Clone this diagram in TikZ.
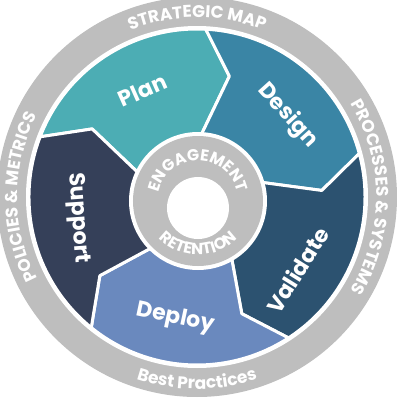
\documentclass[tikz,border=0pt]{standalone}
\usepackage{fontspec}
\newfontfamily\popfont{Poppins}
\usetikzlibrary{decorations.text}
\definecolor{plancol}{RGB}{76,173,180}
\definecolor{designcol}{RGB}{58,133,165}
\definecolor{validcol}{RGB}{44,82,112}
\definecolor{deploycol}{RGB}{106,137,190}
\definecolor{supportcol}{RGB}{53,64,89}
\definecolor{ringcol}{RGB}{190,190,190}
\begin{document}
\begin{tikzpicture}[x=1pt,y=1pt,
  seg/.style={draw=white,line width=3pt,line join=round,fill=#1},
  lbl/.style={text=white,font=\popfont\bfseries\fontsize{22}{22}\selectfont},
  ringtext/.style={decorate,decoration={text along path,text align=center,
    text color=white,text={|\popfont\bfseries\fontsize{17}{17}\selectfont|#1}}},
  hubtext/.style={decorate,decoration={text along path,text align=center,
    text color=white,text={|\popfont\bfseries\fontsize{16}{16}\selectfont|#1}}}]
\def\Ro{168}
\def\Ri{60}
\def\Rt{125}
\def\dt{12}
\useasboundingbox (-197,-203) rectangle (203,197);
% outer ring
\fill[ringcol] (0,0) circle[radius=200];
\fill[white] (0,0) circle[radius=171];
% the five arrows
\foreach \a/\b/\c in {159/87/plancol,87/15/designcol,15/-57/validcol,
    -57/-129/deploycol,-129/-201/supportcol}
  \draw[seg=\c] (\a:\Ro) arc[start angle=\a,end angle=\b,radius=\Ro]
    -- ({\b-\dt}:\Rt) -- (\b:\Ri) arc[start angle=\b,end angle=\a,radius=\Ri]
    -- ({\a-\dt}:\Rt) -- cycle;
% hub
\fill[white] (1,-4) circle[radius=69];
\fill[ringcol] (1,-4) circle[radius=65];
\fill[white] (1,-11) circle[radius=31];
% ring texts
\path[ringtext={STRATEGIC MAP}] (135:179.5) arc[start angle=135,end angle=45,radius=179.5];
\path[ringtext={PROCESSES {\&} SYSTEMS}] (55:179.5) arc[start angle=55,end angle=-55,radius=179.5];
\path[ringtext={POLICIES {\&} METRICS}] (235:179.5) arc[start angle=235,end angle=125,radius=179.5];
\path[ringtext={Best Practices}] (-140:192) arc[start angle=-140,end angle=-40,radius=192];
\path[hubtext={ENGAGEMENT}] (1,-4) ++(178:40.5) arc[start angle=178,end angle=2,radius=40.5];
\path[hubtext={RETENTION}] (1,-4) ++(-172:54) arc[start angle=-172,end angle=-8,radius=54];
% labels
\node[lbl,rotate=24] (plan) at (117:120) {Plan};
\node[lbl,rotate=-48] (design) at (42:122) {Design};
\node[lbl,rotate=58] (validate) at (-36:124) {Validate};
\node[lbl,rotate=-12] (deploy) at (-100:123) {Deploy};
\node[lbl,rotate=-86] (support) at (190:121) {Support};
\end{tikzpicture}
\end{document}
